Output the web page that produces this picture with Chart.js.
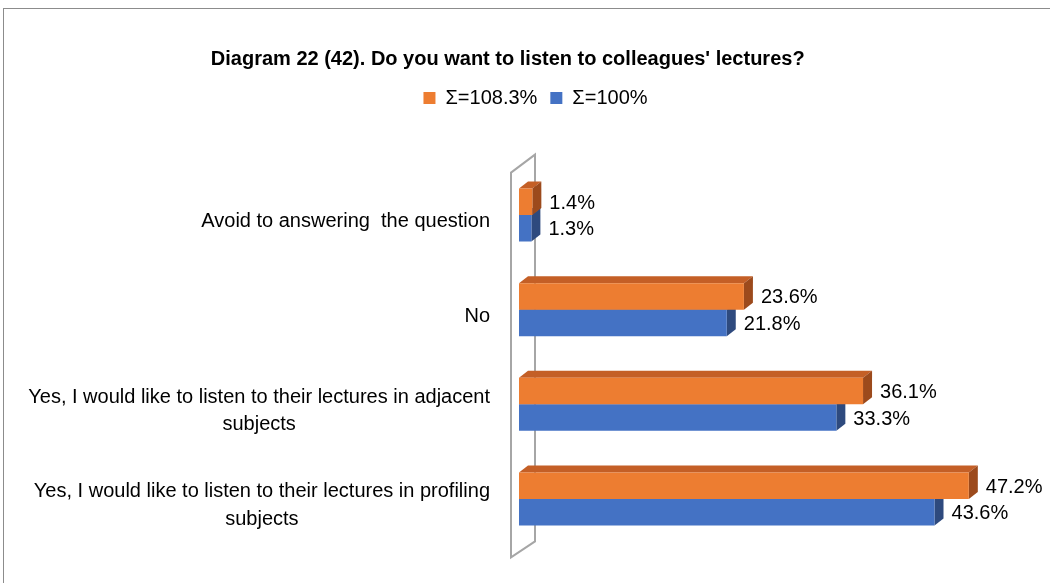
<!DOCTYPE html>
<html>
<head>
<meta charset="utf-8">
<script src="https://cdn.jsdelivr.net/npm/chart.js@4"></script>
<style>
    body { margin: 0; background: #ffffff; overflow: hidden; }
    #wrap { position: relative; width: 1050px; height: 583px; }
    #frame {
        position: absolute; left: 3px; top: 8px; width: 1200px; height: 800px;
        border-top: 1px solid #8c8c8c; border-left: 1px solid #8c8c8c;
    }
    canvas { position: absolute; left: 0; top: 0; }
</style>
</head>
<body>
<div id="wrap">
    <div id="frame"></div>
    <canvas id="chart" width="1050" height="583"></canvas>
</div>
<script>
// Categories, top to bottom
const categories = [
    ["Avoid to answering  the question"],
    ["No"],
    ["Yes, I would like to listen to their lectures in adjacent", "subjects"],
    ["Yes, I would like to listen to their lectures in profiling", "subjects"]
];

const seriesNames = ["\u03A3=108.3%", "\u03A3=100%"];
const orangeValues = [1.4, 23.6, 36.1, 47.2];
const blueValues = [1.3, 21.8, 33.3, 43.6];

const titleText = "Diagram 22 (42). Do you want to listen to colleagues' lectures?";

Chart.defaults.font.family = "'Liberation Sans', Arial, sans-serif";
Chart.defaults.color = "#000000";

// colours of the front, top and side faces of the 3D bars
const faces = [
    { front: "#ED7D31", top: "#c45f26", side: "#9c4a1c" },
    { front: "#4472C4", top: "#3a62a8", side: "#2e4a7e" }
];
const DX = 9, DY = 7;

// back wall + top and right faces of each bar
const bars3d = {
    id: "bars3d",
    beforeDatasetsDraw(chart) {
        const { ctx, chartArea: a } = chart;
        ctx.save();
        ctx.strokeStyle = "#a6a6a6";
        ctx.lineWidth = 2;
        ctx.beginPath();
        ctx.moveTo(a.left - 8, a.top + 5);
        ctx.lineTo(a.left + 16, a.top - 13);
        ctx.lineTo(a.left + 16, a.bottom - 5);
        ctx.lineTo(a.left - 8, a.bottom + 11);
        ctx.closePath();
        ctx.stroke();
        ctx.restore();
    },
    beforeDatasetDraw(chart, args) {
        const { ctx } = chart;
        const f = faces[args.index];
        ctx.save();
        args.meta.data.forEach(bar => {
            const x0 = bar.base, x1 = bar.x;
            const yt = bar.y - bar.height / 2, yb = bar.y + bar.height / 2;
            ctx.fillStyle = f.top;
            ctx.beginPath();
            ctx.moveTo(x0, yt);
            ctx.lineTo(x0 + DX, yt - DY);
            ctx.lineTo(x1 + DX, yt - DY);
            ctx.lineTo(x1, yt);
            ctx.closePath();
            ctx.fill();
            ctx.fillStyle = f.side;
            ctx.beginPath();
            ctx.moveTo(x1, yt);
            ctx.lineTo(x1 + DX, yt - DY);
            ctx.lineTo(x1 + DX, yb - DY);
            ctx.lineTo(x1, yb);
            ctx.closePath();
            ctx.fill();
        });
        ctx.restore();
    },
    afterDatasetsDraw(chart) {
        const { ctx } = chart;
        ctx.save();
        ctx.font = "20px 'Liberation Sans', Arial, sans-serif";
        ctx.fillStyle = "#000000";
        ctx.textAlign = "left";
        ctx.textBaseline = "middle";
        chart.data.datasets.forEach((ds, i) => {
            chart.getDatasetMeta(i).data.forEach((bar, j) => {
                ctx.fillText(ds.data[j].toFixed(1) + "%", bar.x + DX + 8, bar.y + 1.5);
            });
        });
        ctx.restore();
    },
    // category labels: lines centred on each other, block right-aligned
    afterDraw(chart) {
        const { ctx, chartArea: a } = chart;
        const yScale = chart.scales.y;
        ctx.save();
        ctx.font = "20px 'Liberation Sans', Arial, sans-serif";
        ctx.fillStyle = "#000000";
        ctx.textAlign = "center";
        ctx.textBaseline = "middle";
        categories.forEach((lines, i) => {
            const w = Math.max(...lines.map(l => ctx.measureText(l).width));
            const cx = a.left - 29 - w / 2;
            const cy = yScale.getPixelForValue(i) + 6.5;
            lines.forEach((l, k) => {
                ctx.fillText(l, cx, cy + (k - (lines.length - 1) / 2) * 27.5);
            });
        });
        ctx.restore();
    }
};

new Chart(document.getElementById("chart"), {
    type: "bar",
    data: {
        labels: categories,
        datasets: [
            { label: seriesNames[0], data: orangeValues, backgroundColor: faces[0].front, borderWidth: 0 },
            { label: seriesNames[1], data: blueValues, backgroundColor: faces[1].front, borderWidth: 0 }
        ]
    },
    options: {
        indexAxis: "y",
        responsive: false,
        animation: false,
        categoryPercentage: 0.56,
        barPercentage: 1.0,
        layout: { padding: { top: 0, left: 75.5, right: 54.5, bottom: 36.6 } },
        plugins: {
            title: {
                display: true,
                text: titleText + "          ",
                font: { size: 20, weight: "bold" },
                padding: { top: 47, bottom: 4 }
            },
            legend: {
                display: true,
                position: "top",
                labels: { boxWidth: 12, boxHeight: 12, padding: 13, font: { size: 20 } }
            },
            tooltip: { enabled: false }
        },
        scales: {
            x: {
                position: "top",
                min: 0,
                max: 50,
                grid: { display: false },
                border: { display: false },
                ticks: { display: false },
                afterFit(s) { s.height = 49.6; }
            },
            y: {
                grid: { display: false },
                border: { display: false },
                ticks: { display: false },
                afterFit(s) { s.width = 443.5; }
            }
        }
    },
    plugins: [bars3d]
});
</script>
</body>
</html>
